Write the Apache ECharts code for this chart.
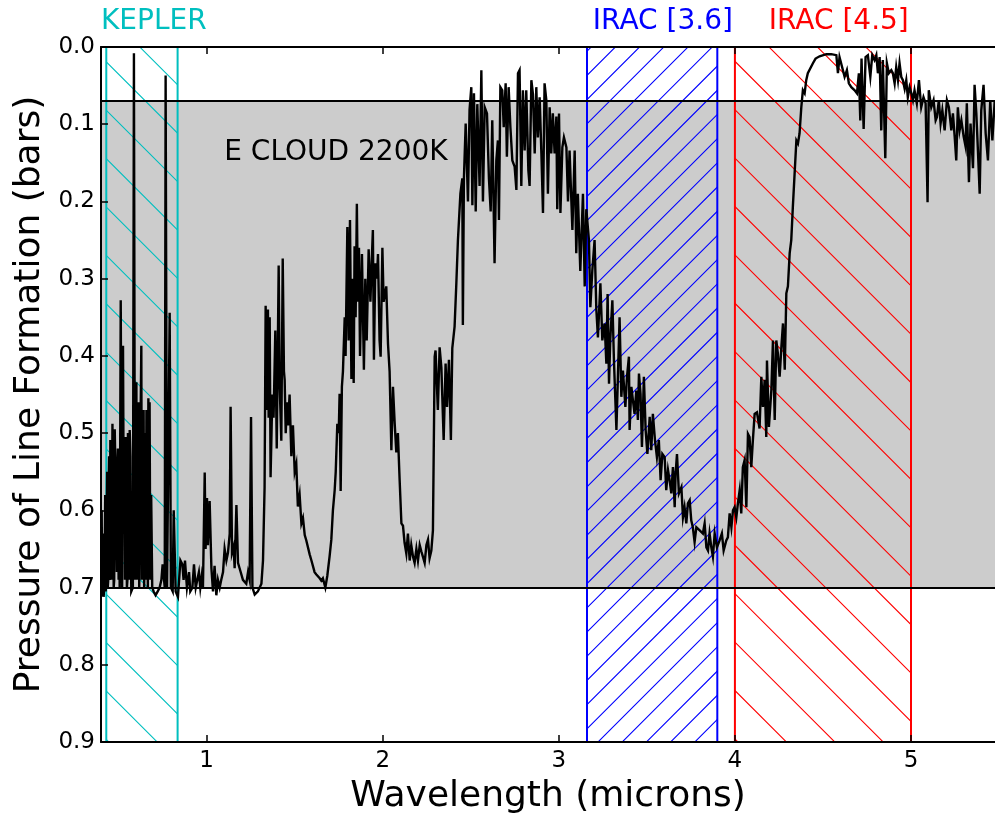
<!DOCTYPE html>
<html>
<head>
<meta charset="utf-8">
<script src="https://cdn.jsdelivr.net/npm/echarts@6/dist/echarts.min.js"></script>
<style>
  html, body { margin: 0; padding: 0; background: #ffffff; }
  #chart { width: 995px; height: 823px; }
</style>
</head>
<body>
<div id="chart"></div>
<script>
// Pressure of line formation (bars) versus wavelength (microns), by spectral segment.
const opticalSegment = [
  [0.401,0.705],[0.404,0.60],[0.406,0.712],[0.409,0.69],[0.412,0.63],[0.415,0.712],[0.418,0.70],
  [0.421,0.66],[0.424,0.58],[0.426,0.705],[0.429,0.70],[0.432,0.62],[0.435,0.55],[0.438,0.70],
  [0.441,0.69],[0.443,0.574],[0.446,0.53],[0.449,0.69],[0.451,0.68],[0.453,0.509],[0.455,0.54],
  [0.458,0.66],[0.461,0.69],[0.465,0.488],[0.468,0.56],[0.472,0.70],[0.475,0.69],[0.478,0.495],
  [0.482,0.55],[0.487,0.62],[0.490,0.68],[0.493,0.54],[0.496,0.52],[0.500,0.69],[0.503,0.57],
  [0.506,0.70],[0.512,0.328],[0.517,0.60],[0.520,0.70],[0.525,0.387],[0.529,0.60],[0.533,0.53],
  [0.536,0.69],[0.540,0.505],[0.543,0.55],[0.547,0.70],[0.550,0.69],[0.553,0.50],[0.557,0.52],
  [0.560,0.69],[0.563,0.496],[0.567,0.53],[0.572,0.705],[0.581,0.70],[0.587,0.008],[0.593,0.69],
  [0.601,0.434],[0.603,0.69],[0.606,0.60],[0.610,0.52],[0.614,0.46],[0.617,0.70],[0.620,0.62],
  [0.624,0.50],[0.629,0.387],[0.632,0.69],[0.635,0.58],[0.638,0.52],[0.642,0.47],[0.645,0.70],
  [0.648,0.65],[0.652,0.50],[0.655,0.69],[0.658,0.47],[0.661,0.52],[0.663,0.55],[0.666,0.70],
  [0.669,0.455],[0.672,0.50],[0.676,0.46],[0.680,0.69],[0.685,0.58],[0.691,0.70],[0.699,0.705],
  [0.710,0.71],[0.722,0.705],[0.733,0.70],[0.743,0.69],[0.750,0.67],[0.762,0.70],[0.767,0.037],
  [0.775,0.70],[0.784,0.70],[0.790,0.344],[0.797,0.70],[0.807,0.705],[0.813,0.60],[0.824,0.705],
  [0.837,0.712],[0.851,0.665],[0.862,0.67],[0.869,0.69],[0.877,0.665],[0.888,0.70],[0.900,0.68],
  [0.907,0.705],[0.919,0.70],[0.928,0.67],[0.938,0.70],[0.947,0.69],[0.956,0.68],[0.964,0.70],
  [0.972,0.685],[0.979,0.70],[0.989,0.551],[0.994,0.65],[1.002,0.584],[1.007,0.645],[1.017,0.588],
  [1.027,0.675],[1.036,0.705],[1.045,0.672],[1.055,0.71],[1.064,0.69],[1.074,0.70],[1.083,0.69],
  [1.093,0.68],[1.102,0.65],[1.112,0.665],[1.121,0.655],[1.131,0.63],[1.136,0.466],[1.144,0.655],
  [1.153,0.647],[1.159,0.675],[1.169,0.593],[1.178,0.668],[1.187,0.675],[1.206,0.69],[1.225,0.695],
  [1.235,0.68],[1.244,0.69],[1.252,0.479],[1.260,0.70],[1.273,0.709],[1.291,0.705],[1.311,0.695],
  [1.320,0.665],[1.329,0.57],[1.335,0.335]
];

const waterBandSegment = [
  [1.338,0.337],[1.344,0.47],[1.348,0.34],[1.352,0.48],[1.358,0.35],[1.363,0.557],[1.373,0.45],
  [1.380,0.48],[1.390,0.367],[1.398,0.52],[1.409,0.283],[1.415,0.44],[1.424,0.51],[1.432,0.274],
  [1.439,0.42],[1.443,0.431],[1.449,0.50],[1.456,0.46],[1.462,0.49],[1.471,0.45],[1.481,0.53],
  [1.490,0.49],[1.500,0.55],[1.509,0.54],[1.518,0.595],[1.528,0.58],[1.538,0.617],[1.547,0.61],
  [1.557,0.632],[1.566,0.639],[1.585,0.657],[1.595,0.665],[1.613,0.68],[1.623,0.683],[1.642,0.688],
  [1.651,0.691],[1.660,0.688],[1.674,0.70],[1.685,0.685],[1.698,0.66],[1.708,0.638],[1.717,0.60],
  [1.727,0.574],[1.733,0.55],[1.742,0.488],[1.750,0.50],[1.755,0.449],[1.761,0.575],[1.768,0.44],
  [1.774,0.42],[1.784,0.35],[1.789,0.40],[1.799,0.233],[1.806,0.38],[1.814,0.224],[1.822,0.43],
  [1.829,0.30],[1.835,0.435],[1.840,0.258],[1.846,0.35],[1.853,0.203],[1.859,0.33],[1.865,0.26],
  [1.871,0.40],[1.882,0.268],[1.893,0.418],[1.901,0.30],[1.909,0.38],[1.920,0.262],[1.930,0.33],
  [1.937,0.28],[1.944,0.237],[1.950,0.405],[1.958,0.28],[1.967,0.30],[1.973,0.268],[1.982,0.38],
  [1.988,0.401],[1.998,0.26],[2.005,0.33],[2.020,0.31],[2.030,0.385],[2.039,0.42],[2.049,0.522],
  [2.058,0.44],[2.068,0.488],[2.077,0.525],[2.086,0.50],[2.096,0.561],[2.106,0.617],[2.115,0.62],
  [2.124,0.642],[2.134,0.656],[2.143,0.63],[2.153,0.665],[2.162,0.645],[2.172,0.66],[2.181,0.668],
  [2.191,0.65],[2.200,0.665],[2.210,0.645],[2.219,0.653],[2.228,0.66],[2.238,0.668],[2.248,0.645],
  [2.257,0.638],[2.266,0.662],[2.276,0.652],[2.285,0.626],[2.295,0.401]
];

const kBandSegment = [
  [2.300,0.393],[2.313,0.47],[2.323,0.389],[2.333,0.415],[2.346,0.509],[2.357,0.41],[2.365,0.466],
  [2.376,0.405],[2.387,0.509],[2.395,0.39],[2.408,0.362],[2.418,0.306],[2.427,0.25],[2.441,0.19],
  [2.452,0.17],[2.455,0.36],[2.461,0.17],[2.471,0.099],[2.484,0.20],[2.493,0.081],[2.503,0.052],
  [2.509,0.205],[2.518,0.06],[2.528,0.213],[2.537,0.074],[2.550,0.18],[2.560,0.030],[2.569,0.20],
  [2.579,0.078],[2.592,0.086],[2.603,0.17],[2.613,0.213],[2.622,0.095],[2.635,0.28],[2.645,0.147],
  [2.654,0.121],[2.660,0.224],[2.668,0.052],[2.679,0.056],[2.687,0.104],[2.698,0.047],[2.705,0.142],
  [2.715,0.052],[2.725,0.104],[2.736,0.147],[2.749,0.155],[2.759,0.185],[2.768,0.034],[2.777,0.030],
  [2.787,0.18],[2.796,0.056],[2.806,0.134],[2.815,0.056],[2.827,0.16],[2.834,0.18],[2.844,0.043],
  [2.853,0.061],[2.863,0.138],[2.872,0.052],[2.881,0.117],[2.891,0.065],[2.901,0.138],[2.910,0.215],
  [2.919,0.047],[2.929,0.069],[2.938,0.19],[2.948,0.078],[2.957,0.138],[2.966,0.086],[2.976,0.138],
  [2.986,0.09],[2.991,0.21],[3.001,0.086],[3.009,0.215],[3.020,0.13],[3.029,0.117],[3.043,0.13],
  [3.052,0.20],[3.061,0.134],[3.077,0.237],[3.090,0.134],[3.099,0.267],[3.108,0.19],[3.122,0.29],
  [3.137,0.19],[3.147,0.31],[3.156,0.21],[3.171,0.25],[3.179,0.337],[3.190,0.29],[3.203,0.25],
  [3.213,0.34],[3.222,0.376]
];

const methaneSegment = [
  [3.236,0.306],[3.247,0.38],[3.260,0.358],[3.270,0.41],[3.277,0.32],[3.285,0.436],[3.292,0.38],
  [3.304,0.328],[3.313,0.406],[3.327,0.496],[3.336,0.423],[3.345,0.35],[3.355,0.453],[3.364,0.419],
  [3.378,0.466],[3.387,0.427],[3.398,0.401],[3.402,0.496],[3.412,0.44],[3.421,0.458],[3.430,0.475],
  [3.440,0.445],[3.449,0.483],[3.455,0.423],[3.464,0.449],[3.472,0.518],[3.483,0.427],[3.493,0.496],
  [3.503,0.527],[3.516,0.479],[3.525,0.522],[3.534,0.475],[3.546,0.509],[3.557,0.531],[3.568,0.509],
  [3.578,0.561],[3.588,0.527],[3.601,0.531],[3.610,0.574],[3.620,0.548],[3.629,0.561],[3.639,0.578],
  [3.648,0.544],[3.658,0.596],[3.663,0.553],[3.671,0.527],[3.682,0.578],[3.696,0.57],[3.705,0.609],
  [3.714,0.596],[3.724,0.617],[3.733,0.591],[3.743,0.587],[3.752,0.613],[3.761,0.622],[3.771,0.641],
  [3.781,0.622],[3.800,0.626],[3.818,0.63],[3.828,0.617],[3.838,0.648],[3.847,0.652],[3.856,0.63],
  [3.866,0.648],[3.875,0.66],[3.885,0.63],[3.898,0.648],[3.913,0.639],[3.926,0.63],[3.936,0.652],
  [3.951,0.639],[3.960,0.635],[3.970,0.604],[3.980,0.622],[3.989,0.60],[3.998,0.596],[4.008,0.609],
  [4.017,0.591],[4.027,0.574],[4.036,0.604],[4.045,0.544],[4.055,0.535],[4.065,0.596],[4.074,0.501],
  [4.083,0.505],[4.093,0.544],[4.102,0.509],[4.112,0.475],[4.125,0.473],[4.140,0.494]
];

const mBandSegment = [
  [4.150,0.427],[4.159,0.466],[4.169,0.431],[4.178,0.505],[4.182,0.406],[4.193,0.492],[4.207,0.444],
  [4.216,0.380],[4.226,0.483],[4.235,0.380],[4.244,0.397],[4.254,0.427],[4.264,0.388],[4.273,0.358],
  [4.283,0.418],[4.292,0.319],[4.301,0.31],[4.311,0.267],[4.320,0.25],[4.329,0.207],[4.339,0.164],
  [4.349,0.121],[4.358,0.125],[4.367,0.112],[4.377,0.078],[4.386,0.056],[4.396,0.060],[4.405,0.043],
  [4.414,0.034],[4.424,0.032],[4.443,0.021],[4.458,0.015],[4.481,0.012],[4.519,0.0093],[4.547,0.0093],
  [4.576,0.0106],[4.585,0.034],[4.594,0.013],[4.604,0.013],[4.623,0.0387],[4.636,0.030],[4.647,0.047],
  [4.661,0.052],[4.680,0.056],[4.693,0.060],[4.704,0.034],[4.712,0.095],[4.719,0.015],[4.731,0.106],
  [4.742,0.013],[4.755,0.0106],[4.769,0.0387],[4.780,0.0106],[4.793,0.017],[4.803,0.0106],[4.812,0.034],
  [4.822,0.013],[4.831,0.108],[4.840,0.017],[4.854,0.144],[4.863,0.021],[4.874,0.034],[4.888,0.030],
  [4.897,0.034],[4.907,0.047],[4.916,0.026],[4.926,0.043],[4.935,0.021],[4.945,0.039],[4.954,0.043],
  [4.964,0.054],[4.973,0.043],[4.982,0.065],[4.992,0.052],[5.002,0.060],[5.011,0.069],[5.020,0.056],
  [5.033,0.073],[5.045,0.043],[5.058,0.078],[5.071,0.065],[5.083,0.073],[5.094,0.201],[5.101,0.056],
  [5.115,0.078],[5.128,0.069],[5.140,0.095],[5.147,0.091],[5.158,0.069],[5.168,0.099],[5.178,0.082],
  [5.191,0.108],[5.204,0.069],[5.215,0.078],[5.229,0.108],[5.238,0.086],[5.248,0.116],[5.257,0.147],
  [5.266,0.078],[5.276,0.108],[5.286,0.095],[5.299,0.116],[5.310,0.129],[5.317,0.073],[5.329,0.175],
  [5.338,0.099],[5.352,0.157],[5.361,0.049],[5.371,0.086],[5.380,0.134],[5.390,0.19],[5.399,0.082],
  [5.412,0.049],[5.424,0.112],[5.437,0.147],[5.450,0.069],[5.462,0.121],[5.475,0.071]
];

// Axis ticks
const xTicks = [1, 2, 3, 4, 5];
const yTicks = [0, 0.1, 0.2, 0.3, 0.4, 0.5, 0.6, 0.7, 0.8, 0.9];

// Cloud layer (bars) and photometric band passes (microns)
const cloudLayer = [0.07, 0.7];
const keplerBand = [0.43, 0.835];
const irac36Band = [3.16, 3.9];
const irac45Band = [4.0, 5.0];

const FONT = 'DejaVu Sans';
const spectrum = [].concat(opticalSegment, waterBandSegment, kBandSegment, methaneSegment, mBandSegment);

// Tiled hatch pattern: '\' lines follow y = x + c, '/' lines follow x + y = c.
function hatchTile(color, dir, spacing, phase) {
  const size = 242;
  const c = document.createElement('canvas');
  c.width = size; c.height = size;
  const ctx = c.getContext('2d');
  ctx.strokeStyle = color;
  ctx.lineWidth = 1.1;
  ctx.beginPath();
  const n = Math.ceil(2 * size / spacing) + 2;
  for (let k = -n; k <= n; k++) {
    const off = phase + k * spacing;
    if (dir === 'back') {
      ctx.moveTo(-5, off - 5);
      ctx.lineTo(size + 5, size + 5 + off);
    } else {
      ctx.moveTo(-5, off + 5);
      ctx.lineTo(size + 5, off - size - 5);
    }
  }
  ctx.stroke();
  return { image: c, repeat: 'repeat' };
}

function bandSeries(range, color, pattern) {
  return {
    type: 'line', data: [], silent: true, z: 3,
    markArea: {
      silent: true,
      itemStyle: { color: pattern, borderColor: color, borderWidth: 2 },
      label: { show: false },
      data: [[{ xAxis: range[0] }, { xAxis: range[1] }]]
    }
  };
}

const chart = echarts.init(document.getElementById('chart'), null, { renderer: 'canvas' });

const axisLineStyle = { color: '#000', width: 2 };
const tickStyle = { color: '#000', width: 1.5 };

chart.setOption({
  animation: false,
  backgroundColor: '#ffffff',
  grid: { left: 101, top: 47, right: 0, height: 695, containLabel: false },
  xAxis: [
    {
      type: 'value', min: 0.4, max: 5.477, position: 'bottom', z: 10,
      axisLine: { show: true, onZero: false, lineStyle: axisLineStyle },
      axisTick: { show: true, inside: true, length: 7, lineStyle: tickStyle, customValues: xTicks },
      axisLabel: { show: true, customValues: xTicks, margin: 8, color: '#000', fontSize: 23, fontFamily: FONT },
      splitLine: { show: false },
      name: 'Wavelength (microns)', nameLocation: 'middle', nameGap: 37,
      nameTextStyle: { fontSize: 36, color: '#000', fontFamily: FONT }
    },
    {
      type: 'value', min: 0.4, max: 5.477, position: 'top', z: 10,
      axisLine: { show: true, onZero: false, lineStyle: axisLineStyle },
      axisTick: { show: true, inside: true, length: 7, lineStyle: tickStyle, customValues: xTicks },
      axisLabel: { show: false },
      splitLine: { show: false }
    }
  ],
  yAxis: {
    type: 'value', min: 0, max: 0.9, interval: 0.1, inverse: true, z: 10,
    axisLine: { show: true, onZero: false, lineStyle: axisLineStyle },
    axisTick: { show: true, inside: true, length: 7, lineStyle: tickStyle, customValues: yTicks },
    axisLabel: {
      show: true, customValues: yTicks, margin: 6, color: '#000', fontSize: 23, fontFamily: FONT,
      formatter: v => v.toFixed(1)
    },
    splitLine: { show: false },
    name: 'Pressure of Line Formation (bars)', nameLocation: 'middle', nameGap: 47,
    nameTextStyle: { fontSize: 36, color: '#000', fontFamily: FONT }
  },
  series: [
    {
      // cloud deck shading and its boundaries
      type: 'line', data: [], silent: true, z: 1,
      markArea: {
        silent: true,
        itemStyle: { color: '#cccccc' },
        label: { show: false },
        data: [[{ yAxis: cloudLayer[0] }, { yAxis: cloudLayer[1] }]]
      }
    },
    {
      type: 'line', data: [], silent: true, z: 4,
      markLine: {
        silent: true, symbol: ['none', 'none'], animation: false,
        label: { show: false },
        lineStyle: { color: '#000', width: 2, type: 'solid' },
        data: cloudLayer.map(v => ({ yAxis: v }))
      }
    },
    bandSeries(keplerBand, '#00bfbf', hatchTile('#00bfbf', 'back', 48.4, 4)),
    bandSeries(irac36Band, '#0000ff', hatchTile('#0000ff', 'fwd', 24.2, 9)),
    bandSeries(irac45Band, '#ff0000', hatchTile('#ff0000', 'back', 48.4, 4)),
    {
      name: 'spectrum', type: 'line', data: spectrum, z: 5,
      showSymbol: false, symbol: 'none', silent: true, clip: true,
      lineStyle: { color: '#000', width: 2.4, join: 'miter' }
    },
    {
      // text annotations placed in data coordinates
      type: 'scatter', z: 6, silent: true, clip: false,
      symbolSize: 1, itemStyle: { color: 'rgba(0,0,0,0)', opacity: 1 },
      data: [
        { value: [0.4, -0.0325], text: 'KEPLER', color: '#00bfbf', size: 28 },
        { value: [3.193, -0.0325], text: 'IRAC [3.6]', color: '#0000ff', size: 28 },
        { value: [4.192, -0.0325], text: 'IRAC [4.5]', color: '#ff0000', size: 28 },
        { value: [1.1, 0.1375], text: 'E CLOUD 2200K', color: '#000000', size: 28 }
      ].map(d => ({
        value: d.value,
        itemStyle: { opacity: 1 },
        label: {
          show: true, position: 'inside', align: 'left', verticalAlign: 'middle', opacity: 1,
          formatter: d.text, color: d.color, fontSize: d.size, fontFamily: FONT
        }
      }))
    }
  ]
});
</script>
</body>
</html>
